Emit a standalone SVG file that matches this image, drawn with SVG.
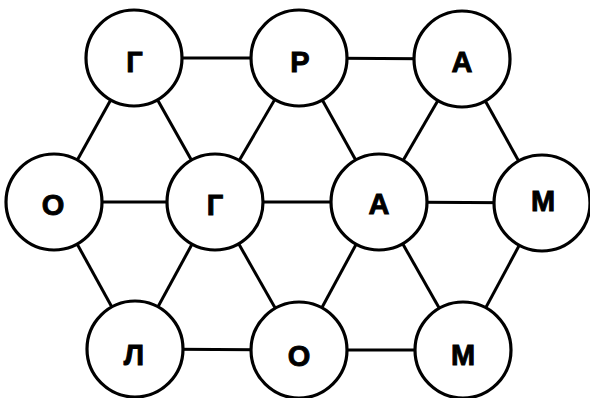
<svg xmlns="http://www.w3.org/2000/svg" width="590" height="398" viewBox="0 0 590 398">
<style>
.edge{stroke:#000;stroke-width:3;fill:none}
.node circle{fill:#fff;stroke:#000;stroke-width:3.2}
.node text{font-family:"Liberation Sans",Arial,sans-serif;font-weight:bold;font-size:29px;text-anchor:middle;fill:#000;stroke:#000;stroke-width:0.9}
</style>
<rect width="590" height="398" fill="#fff"/>
<g id="connectors">
<line class="edge" x1="134" y1="58" x2="299" y2="58"/>
<line class="edge" x1="299" y1="58" x2="462" y2="59"/>
<line class="edge" x1="54" y1="202" x2="215" y2="202"/>
<line class="edge" x1="215" y1="202" x2="379" y2="202"/>
<line class="edge" x1="379" y1="202" x2="542" y2="203"/>
<line class="edge" x1="135" y1="349" x2="299" y2="350"/>
<line class="edge" x1="299" y1="350" x2="463" y2="350"/>
<line class="edge" x1="134" y1="58" x2="54" y2="202"/>
<line class="edge" x1="134" y1="58" x2="215" y2="202"/>
<line class="edge" x1="299" y1="58" x2="215" y2="202"/>
<line class="edge" x1="299" y1="58" x2="379" y2="202"/>
<line class="edge" x1="462" y1="59" x2="379" y2="202"/>
<line class="edge" x1="462" y1="59" x2="542" y2="203"/>
<line class="edge" x1="54" y1="202" x2="135" y2="349"/>
<line class="edge" x1="215" y1="202" x2="135" y2="349"/>
<line class="edge" x1="215" y1="202" x2="299" y2="350"/>
<line class="edge" x1="379" y1="202" x2="299" y2="350"/>
<line class="edge" x1="379" y1="202" x2="463" y2="350"/>
<line class="edge" x1="542" y1="203" x2="463" y2="350"/>
</g>
<g id="n1" class="node"><circle cx="134" cy="58" r="48"/><text x="134.5" y="72">Г</text></g>
<g id="n2" class="node"><circle cx="299" cy="58" r="48"/><text x="300" y="72">Р</text></g>
<g id="n3" class="node"><circle cx="462" cy="59" r="48"/><text x="462" y="72">А</text></g>
<g id="n4" class="node"><circle cx="54" cy="202" r="48"/><text x="53" y="215">О</text></g>
<g id="n5" class="node"><circle cx="215" cy="202" r="48"/><text x="215" y="215">Г</text></g>
<g id="n6" class="node"><circle cx="379" cy="202" r="48"/><text x="379" y="214">А</text></g>
<g id="n7" class="node"><circle cx="542" cy="203" r="48"/><text x="543" y="211">М</text></g>
<g id="n8" class="node"><circle cx="135" cy="349" r="48"/><text x="134" y="365">Л</text></g>
<g id="n9" class="node"><circle cx="299" cy="350" r="48"/><text x="299" y="366">О</text></g>
<g id="n10" class="node"><circle cx="463" cy="350" r="48"/><text x="463" y="365">М</text></g>
</svg>
